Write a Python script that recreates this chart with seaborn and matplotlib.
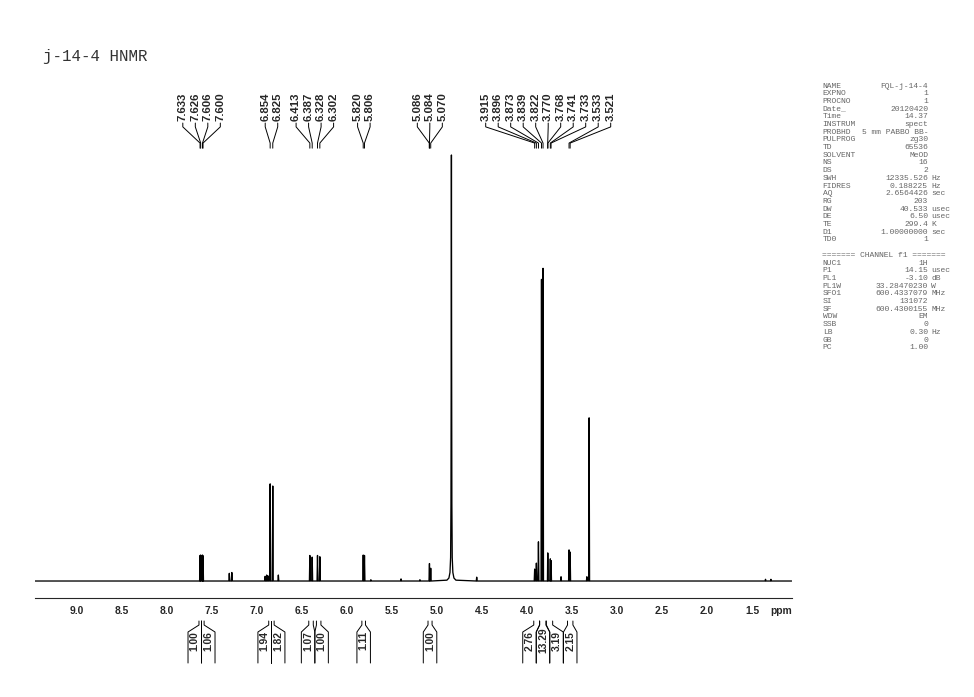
import numpy as np
import pandas as pd
import seaborn as sns
import matplotlib.pyplot as plt
from matplotlib.ticker import MultipleLocator

sns.set_style("white")
plt.rcParams['font.family'] = ['Liberation Sans', 'DejaVu Sans']

# sharp lines: shift (ppm) and height (% of solvent line)
line_ppm = [7.633, 7.626, 7.606, 7.600, 7.308, 7.280, 6.910, 6.893, 6.878,
            6.854, 6.825, 6.763, 6.413, 6.387, 6.328, 6.302, 5.820, 5.806,
            5.735, 5.400, 5.190, 5.086, 5.084, 5.070, 4.559, 3.915, 3.896,
            3.873, 3.839, 3.822, 3.770, 3.768, 3.741, 3.733, 3.622, 3.533,
            3.521, 3.335, 3.310, 1.350, 1.290]
line_height = [6.0, 6.1, 6.1, 5.9, 1.8, 2.0, 1.1, 1.4, 1.2,
               22.8, 22.3, 1.4, 6.0, 5.6, 6.0, 5.7, 6.1, 6.0,
               0.3, 0.5, 0.3, 3.2, 4.1, 3.0, 0.9, 2.8, 4.2,
               9.2, 70.8, 73.4, 6.6, 6.4, 5.2, 4.8, 1.0, 7.3,
               6.8, 1.0, 38.3, 0.4, 0.4]

# broad solvent (HDO) line
solvent_ppm = [4.890, 4.868, 4.856, 4.849, 4.845, 4.842, 4.840, 4.838,
               4.835, 4.831, 4.824, 4.812, 4.790]
solvent_int = [0.2, 0.7, 2.0, 5.5, 18.0, 55.0, 100.0, 55.0,
               18.0, 5.5, 2.0, 0.7, 0.2]

# peak picking labels
peak_labels = [7.633, 7.626, 7.606, 7.600, 6.854, 6.825, 6.413, 6.387,
               6.328, 6.302, 5.820, 5.806, 5.086, 5.084, 5.070, 3.915,
               3.896, 3.873, 3.839, 3.822, 3.770, 3.768, 3.741, 3.733,
               3.533, 3.521]

# integrals
int_start = [7.645, 7.617, 6.870, 6.840, 6.425, 6.340, 5.835, 5.100,
             3.925, 3.860, 3.785, 3.550]
int_end = [7.617, 7.588, 6.840, 6.810, 6.375, 6.290, 5.795, 5.055,
           3.860, 3.790, 3.715, 3.490]
int_value = [1.00, 1.06, 1.94, 1.82, 1.07, 1.00, 1.11, 1.00,
             2.76, 13.29, 3.19, 2.15]

# acquisition parameters
par_keys = ["NAME", "EXPNO", "PROCNO", "Date_", "Time", "INSTRUM", "PROBHD",
            "PULPROG", "TD", "SOLVENT", "NS", "DS", "SWH", "FIDRES", "AQ",
            "RG", "DW", "DE", "TE", "D1", "TD0"]
par_vals = ["FQL-j-14-4", "1", "1", "20120420", "14.37", "spect",
            "5 mm PABBO BB-", "zg30", "65536", "MeOD", "16", "2",
            "12335.526", "0.188225", "2.6564426", "203", "40.533", "6.50",
            "299.4", "1.00000000", "1"]
par_units = ["", "", "", "", "", "", "", "", "", "", "", "",
             "Hz", "Hz", "sec", "", "usec", "usec", "K", "sec", ""]
ch_keys = ["NUC1", "P1", "PL1", "PL1W", "SFO1", "SI", "SF", "WDW", "SSB",
           "LB", "GB", "PC"]
ch_vals = ["1H", "14.15", "-3.10", "33.28470230", "600.4337079", "131072",
           "600.4300155", "EM", "0", "0.30", "0", "1.00"]
ch_units = ["", "usec", "dB", "W", "MHz", "", "MHz", "", "", "Hz", "", ""]

XMAX, XMIN = 9.467, 1.059

# build the trace: each line drawn as a narrow spike on a flat baseline
w = 0.005
pts = [(XMAX, 0.0), (XMIN, 0.0)]
for p, h in zip(line_ppm, line_height):
    pts += [(p + w, 0.0), (p, h), (p - w, 0.0)]
pts += list(zip(solvent_ppm, solvent_int))
spec = pd.DataFrame(pts, columns=["ppm", "intensity"])
spec = spec.sort_values("ppm", ascending=False, kind="stable")


def spread(centers, gap):
    # evenly spaced label positions around group means, no overlaps
    groups = [[c] for c in centers]
    merged = True
    while merged:
        merged = False
        for i in range(len(groups) - 1):
            a, b = groups[i], groups[i + 1]
            low_a = np.mean(a) - gap * (len(a) - 1) / 2
            high_b = np.mean(b) + gap * (len(b) - 1) / 2
            if low_a - high_b < gap:
                groups[i] = a + b
                del groups[i + 1]
                merged = True
                break
    pos = []
    for g in groups:
        m = np.mean(g)
        pos += [m + gap * ((len(g) - 1) / 2 - k) for k in range(len(g))]
    return pos


fig = plt.figure(figsize=(9.74, 6.97), dpi=100)
ax = fig.add_axes([35 / 974, 1 - 597.5 / 697, (791.7 - 35) / 974, 537.5 / 697])

sns.lineplot(data=spec, x="ppm", y="intensity", sort=False, estimator=None,
             color="black", linewidth=0.95, ax=ax)
ax.set_xlim(XMAX, XMIN)
ax.set_ylim(-3.87, 122.3)
ax.set_xlabel("")
ax.set_ylabel("")
ax.set_yticks([])
for s in ["left", "top", "right"]:
    ax.spines[s].set_visible(False)
ax.spines["bottom"].set_linewidth(0.8)

major = np.arange(1.5, 9.01, 0.5)
ax.set_xticks(major)
ax.set_xticklabels([f"{t:.1f}" for t in major], fontweight="bold", fontsize=7.4)
ax.xaxis.set_minor_locator(MultipleLocator(0.1))
ax.tick_params(axis="x", which="major", length=3.8, width=0.8, pad=2.5)
ax.tick_params(axis="x", which="minor", length=1.9, width=0.6)
ax.text(XMIN, -7.11, "ppm", ha="right", va="center", fontsize=7.4,
        fontweight="bold")

# peak labels with connectors
lab_pos = spread(peak_labels, 0.1389)
for p, lx in zip(peak_labels, lab_pos):
    ax.text(lx, 107.9, f"{p:.3f}", rotation=90, ha="center", va="bottom",
            fontsize=8.2, fontweight="bold", clip_on=False)
    ax.plot([lx, lx, p, p], [107.5, 106.6, 102.8, 101.6], color="black",
            lw=0.7, clip_on=False)

# integral brackets below the axis
centers = [(a + b) / 2 for a, b in zip(int_start, int_end)]
int_pos = spread(centers, 0.15)
hw = 0.075
ys = [-9.39, -10.33, -11.97, -19.25]
for a, b, v, c in zip(int_start, int_end, int_value, int_pos):
    ax.plot([a, a, c + hw, c + hw], ys, color="black", lw=0.7, clip_on=False)
    ax.plot([b, b, c - hw, c - hw], ys, color="black", lw=0.7, clip_on=False)
    ax.text(c, -14.0, f"{v:.2f}", rotation=90, ha="center", va="center",
            fontsize=7.4, fontweight="bold", clip_on=False)

# title
fig.text(43 / 974, 1 - 57 / 697, "j-14-4 HNMR", family="Liberation Mono",
         fontsize=11.3, va="center", color="#333333")

# parameter block
mono = dict(family="Liberation Mono", fontsize=5.8, color="#666666", va="center")
step = 7.7
y = 86.0
for k, v, u in zip(par_keys, par_vals, par_units):
    fig.text(822.7 / 974, 1 - y / 697, k, ha="left", **mono)
    fig.text(928 / 974, 1 - y / 697, v, ha="right", **mono)
    if u:
        fig.text(931 / 974, 1 - y / 697, u, ha="left", **mono)
    y += step
y += step
fig.text(822 / 974, 1 - y / 697, "======= CHANNEL f1 =======", ha="left", **mono)
y += step
for k, v, u in zip(ch_keys, ch_vals, ch_units):
    fig.text(822.7 / 974, 1 - y / 697, k, ha="left", **mono)
    fig.text(928 / 974, 1 - y / 697, v, ha="right", **mono)
    if u:
        fig.text(931 / 974, 1 - y / 697, u, ha="left", **mono)
    y += step

fig.savefig("out.png", dpi=100)
